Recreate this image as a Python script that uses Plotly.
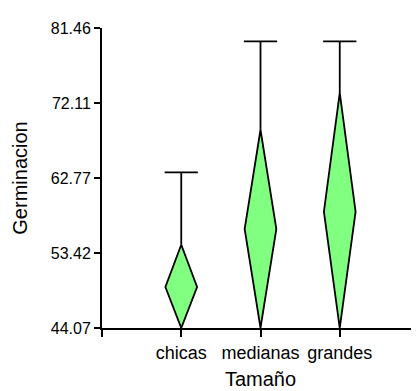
import plotly.graph_objects as go

categories = ["chicas", "medianas", "grandes"]
diamond_low = [44.07, 44.07, 44.07]
diamond_mid = [49.18, 56.41, 58.56]
diamond_high = [54.45, 68.78, 73.36]
whisker_top = [63.46, 79.79, 79.79]
y_ticks = [44.07, 53.42, 62.77, 72.11, 81.46]
y_tick_labels = ["44.07", "53.42", "62.77", "72.11", "81.46"]

half_w = 0.2
cap_w = 0.21
fill_color = "#80FF80"
font_family = "Arial, Liberation Sans, sans-serif"

fig = go.Figure()
for i, cat in enumerate(categories):
    # whisker line from diamond top to cap
    fig.add_trace(go.Scatter(
        x=[i, i, None, i - cap_w, i + cap_w],
        y=[diamond_high[i], whisker_top[i], None, whisker_top[i], whisker_top[i]],
        mode="lines", line=dict(color="black", width=1.8),
        hoverinfo="skip", showlegend=False))
    # diamond
    fig.add_trace(go.Scatter(
        x=[i, i + half_w, i, i - half_w, i],
        y=[diamond_low[i], diamond_mid[i], diamond_high[i], diamond_mid[i], diamond_low[i]],
        mode="lines", fill="toself", fillcolor=fill_color,
        line=dict(color="black", width=1.8),
        name=cat, showlegend=False))

fig.update_layout(
    width=411, height=391,
    margin=dict(l=94, r=0, t=20, b=71),
    paper_bgcolor="white", plot_bgcolor="white",
    font=dict(family=font_family, size=16, color="black"),
    xaxis=dict(
        range=[-1, 3], showgrid=False, zeroline=False,
        showline=True, linecolor="black", linewidth=2,
        tickmode="array", tickvals=[-1, 0, 1, 2], ticktext=["", *categories],
        ticks="outside", ticklen=7, tickwidth=2, tickcolor="black",
        tickfont=dict(size=18),
        title=dict(text="Tamaño", font=dict(size=20), standoff=10),
    ),
    yaxis=dict(
        range=[y_ticks[0], y_ticks[-1]], showgrid=False, zeroline=False,
        showline=True, linecolor="black", linewidth=2,
        tickmode="array", tickvals=y_ticks, ticktext=y_tick_labels,
        ticks="outside", ticklen=6, tickwidth=2, tickcolor="black",
        tickfont=dict(size=16),
        title=dict(text="Germinacion", font=dict(size=20), standoff=18),
    ),
)

fig.write_html("out.html")
